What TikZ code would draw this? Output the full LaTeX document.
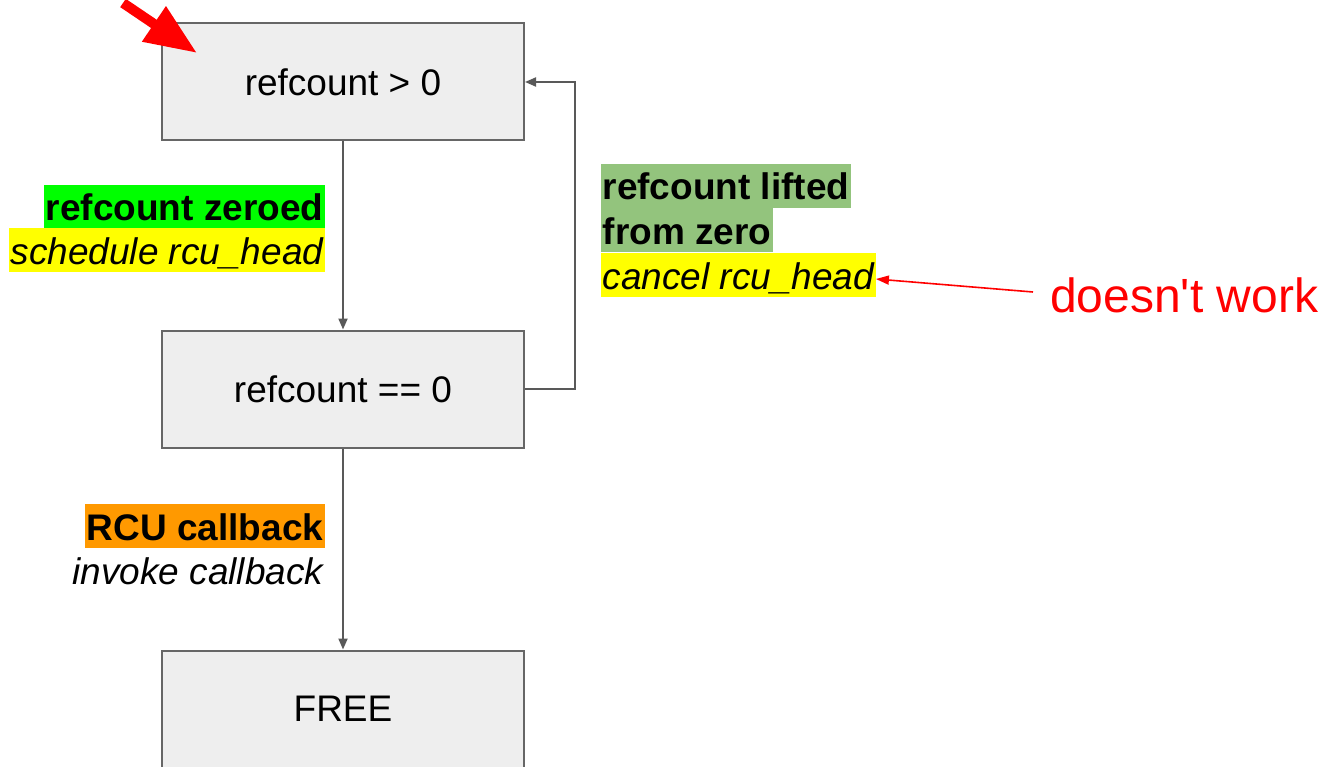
\documentclass[tikz,border=0pt]{standalone}
\usepackage{fontspec}
\setmainfont{Liberation Sans}
\usetikzlibrary{arrows.meta}
\definecolor{boxfill}{HTML}{EEEEEE}
\definecolor{boxline}{HTML}{666666}
\definecolor{wire}{HTML}{595959}
\definecolor{hlgreen}{HTML}{00FF00}
\definecolor{hlsage}{HTML}{93C47D}
\definecolor{hlyellow}{HTML}{FFFF00}
\definecolor{hlorange}{HTML}{FF9900}
\definecolor{alert}{HTML}{FF0000}
\newcommand\lsz{\fontsize{37}{44}\selectfont}
\tikzset{
  state/.style={draw=boxline, fill=boxfill, line width=2pt, minimum width=362pt,
    minimum height=117pt, inner sep=0pt, font=\lsz},
  lbl/.style={inner xsep=1.5pt, inner ysep=0pt, text height=36pt, text depth=8pt},
  flow/.style={draw=wire, line width=2pt, -{Triangle[length=11pt,width=9pt]}},
}
\begin{document}
\begin{tikzpicture}[x=1pt,y=-1pt]
\useasboundingbox (0,0) rectangle (1324,767);
\clip (0,0) rectangle (1324,767);

% states
\node[state] (gt) at (343,82) {refcount > 0};
\node[state] (eq) at (343,389) {refcount == 0};
\node[state] (fr) at (343,709) {FREE};

% transitions
\draw[flow] (gt.south) -- (eq.north);
\draw[flow] (eq.south) -- (fr.north);
\draw[flow] (eq.east) -- ++(50,0) |- (gt.east);

% transition labels
\node[lbl, fill=hlgreen, font=\lsz\bfseries, anchor=base east] (zl) at (325,221) {refcount zeroed};
\node[lbl, fill=hlyellow, font=\lsz\itshape, anchor=base east] (za) at (325,264) {schedule rcu\_head};

\node[lbl, fill=hlsage, font=\lsz\bfseries, anchor=base west] (ll1) at (601,200) {refcount lifted};
\node[lbl, fill=hlsage, font=\lsz\bfseries, anchor=base west] (ll2) at (601,244) {from zero};
\node[lbl, fill=hlyellow, font=\lsz\itshape, anchor=base west] (la) at (601,289) {cancel rcu\_head};

\node[lbl, fill=hlorange, font=\lsz\bfseries, anchor=base east] (cl) at (325,540) {RCU callback};
\node[lbl, font=\lsz\itshape, anchor=base east] (ca) at (325,584) {invoke callback};

% annotation
\node[inner sep=0pt, anchor=base west, text=alert, font=\fontsize{48}{56}\selectfont] (dw) at (1050,312) {doesn\textquotesingle t work};
\coordinate (dwtail) at (1033,292);
\draw[alert, line width=1.6pt, -{Triangle[length=13pt,width=9pt]}] (dwtail) -- (la.east |- 0,279);

% entry marker
\coordinate (entrytail) at (123,3);
\coordinate (entrytip) at (197,53);
\draw[alert, line width=10pt, -{Triangle[length=52pt,width=40pt]}] (entrytail) -- (entrytip);
\end{tikzpicture}
\end{document}
